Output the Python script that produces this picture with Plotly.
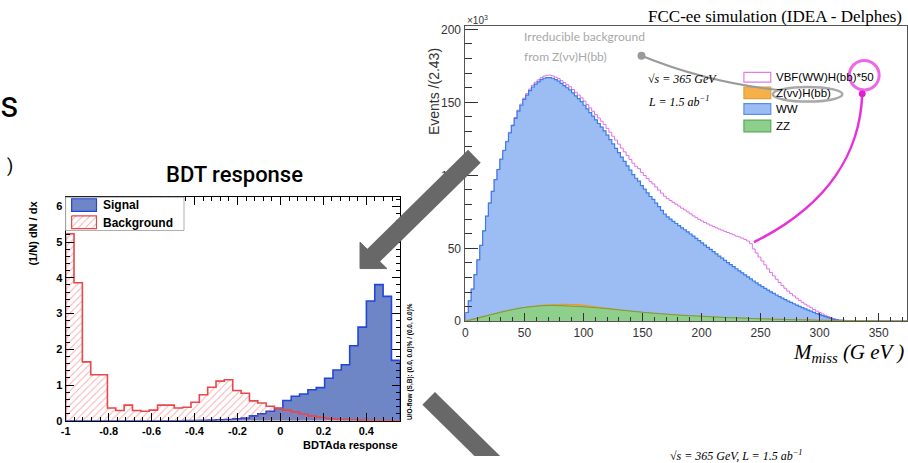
import numpy as np
import plotly.graph_objects as go

W, H = 908, 463

# ---------------- BDT response (left) ----------------
bdt_lo, bdt_hi, bdt_nbins = -1.0, 0.556, 40
bdt_signal = [0, 0, 0, 0, 0, 0, 0, 0, 0, 0,
              0, 0, 0.003, 0.005, 0.008, 0.01, 0.015, 0.02, 0.03, 0.04,
              0.06, 0.08, 0.14, 0.20, 0.27, 0.35, 0.57, 0.69, 0.75, 0.87,
              0.93, 1.19, 1.42, 1.57, 2.10, 2.62, 3.35, 3.81, 3.48, 1.69]
bdt_background = [5.23, 3.86, 1.65, 1.29, 1.29, 0.36, 0.29, 0.44, 0.29, 0.27,
                  0.30, 0.44, 0.44, 0.36, 0.38, 0.52, 0.73, 0.94, 1.11, 1.15,
                  0.85, 0.77, 0.56, 0.50, 0.41, 0.35, 0.30, 0.25, 0.19, 0.14,
                  0.10, 0.07, 0.05, 0.04, 0.03, 0.02, 0.015, 0.01, 0.01, 0.005]
bdt_tickvals = [-1, -0.8, -0.6, -0.4, -0.2, 0, 0.2, 0.4]
bdt_ticktext = ["-1", "-0.8", "-0.6", "-0.4", "-0.2", "0", "0.2", "0.4"]
bdt_ytickvals = [0, 1, 2, 3, 4, 5, 6]

# ---------------- Missing mass (right), thousands of events / 2.43 GeV ----------------
mmiss_binw, mmiss_nbins = 2.43, 154
# top of the stacked ZZ + Z(vv)H(bb) + WW histogram (as read)
stack_top = [6, 14, 22, 32, 42, 52, 62, 72, 81, 89,
             97, 104, 111, 117, 123, 129, 134, 139, 144, 148,
             152, 155, 158, 160.5, 162.5, 164, 165.5, 166.5, 167, 167,
             166.5, 165.5, 164.5, 163, 161.5, 160, 158.5, 156.5, 154.5, 152.5,
             150.5, 148, 145.5, 143, 140.5, 138, 135.5, 133, 130.5, 127.5,
             124.5, 121.5, 118.5, 115.5, 112.5, 109.5, 106.5, 103.5, 100.5, 98,
             96, 93, 90.5, 88, 85.5, 83.5, 81, 78.5, 76, 73.5,
             71.5, 70, 68.5, 67, 65.5, 64, 62.7, 61.3, 59.8, 58.3,
             56.8, 55.2, 53.7, 52.2, 50.7, 49.2, 47.7, 46.2, 44.7, 43.2,
             41.7, 40.2, 38.8, 37.4, 36, 34.6, 33.2, 31.8, 30.4, 29,
             27.6, 26.3, 25, 23.8, 22.6, 21.4, 20.2, 19.1, 18, 16.9,
             15.8, 14.8, 13.8, 12.9, 12, 11.1, 10.2, 9.3, 8.5, 7.7,
             6.9, 6.1, 5.3, 4.6, 3.9, 3.2, 2.5, 1.9, 1.3, 0.9,
             0.7, 0.6, 0.5, 0.45, 0.4, 0.4, 0.3, 0.3, 0.3, 0.3,
             0.3, 0.3, 0.2, 0.2, 0.2, 0.2, 0.2, 0.2, 0.2, 0.1,
             0.1, 0.1, 0.1, 0.1]
zz = [0.3, 0.8, 1.3, 1.8, 2.3, 2.8, 3.3, 3.8, 4.3, 4.8,
      5.3, 5.8, 6.3, 6.8, 7.2, 7.6, 8.0, 8.4, 8.8, 9.1,
      9.4, 9.7, 9.9, 10.1, 10.3, 10.5, 10.6, 10.7, 10.8, 10.8,
      10.8, 10.8, 10.7, 10.7, 10.6, 10.5, 10.4, 10.3, 10.2, 10.1,
      10.0, 9.9, 9.7, 9.6, 9.4, 9.3, 9.1, 9.0, 8.8, 8.6,
      8.4, 8.2, 8.0, 7.8, 7.6, 7.4, 7.2, 7.0, 6.8, 6.6,
      6.4, 6.2, 6.0, 5.9, 5.7, 5.5, 5.4, 5.2, 5.1, 4.9,
      4.8, 4.6, 4.5, 4.4, 4.2, 4.1, 4.0, 3.9, 3.8, 3.7,
      3.6, 3.5, 3.4, 3.3, 3.2, 3.1, 3.0, 2.9, 2.8, 2.7,
      2.6, 2.5, 2.5, 2.4, 2.3, 2.2, 2.2, 2.1, 2.0, 1.9,
      1.9, 1.8, 1.7, 1.7, 1.6, 1.6, 1.5, 1.4, 1.4, 1.3,
      1.3, 1.2, 1.2, 1.1, 1.1, 1.0, 1.0, 0.9, 0.9, 0.9,
      0.8, 0.8, 0.7, 0.7, 0.7, 0.6, 0.6, 0.6, 0.5, 0.5,
      0.5, 0.5, 0.4, 0.4, 0.4, 0.4, 0.3, 0.3, 0.3, 0.3,
      0.3, 0.3, 0.2, 0.2, 0.2, 0.2, 0.2, 0.2, 0.2, 0.1,
      0.1, 0.1, 0.1, 0.1]
zh = [0] * 20 + [0.05, 0.05, 0.1, 0.1, 0.15, 0.2, 0.25, 0.3, 0.4, 0.5,
                 0.6, 0.7, 0.8, 0.9, 1.0, 1.1, 1.1, 1.2, 1.2, 1.2,
                 1.1, 1.0, 0.9, 0.8, 0.7, 0.6, 0.5, 0.4, 0.3, 0.25,
                 0.2, 0.15, 0.1, 0.1, 0.05, 0.05] + [0] * 98
vbf_x50 = [0.0, 0.0, 0.0, 0.0, 0.0, 0.0, 0.0, 0.0, 0.0, 0.0,
           0.1, 0.1, 0.2, 0.2, 0.3, 0.4, 0.5, 0.6, 0.7, 0.8,
           0.9, 1.0, 1.1, 1.2, 1.3, 1.4, 1.4, 1.5, 1.5, 1.6,
           1.6, 1.7, 1.8, 1.9, 2.0, 2.1, 2.2, 2.3, 2.4, 2.5,
           2.6, 2.8, 3.0, 3.2, 3.4, 3.6, 3.8, 4.1, 4.4, 4.7,
           5.0, 5.3, 5.6, 5.9, 6.2, 6.6, 7.0, 7.4, 7.8, 8.2,
           8.6, 9.0, 9.4, 9.8, 10.2, 10.6, 11.0, 11.4, 11.8, 12.2,
           12.5, 12.8, 13.0, 13.2, 13.4, 13.5, 13.6, 13.7, 13.8, 13.9,
           14.2, 14.6, 15.0, 15.5, 16.0, 16.6, 17.2, 17.8, 18.5, 19.2,
           19.9, 20.6, 21.2, 21.8, 22.3, 23.2, 23.8, 24.3, 24.6, 24.2,
           22.0, 20.5, 19.0, 17.5, 16.0, 14.5, 13.2, 12.0, 10.8, 9.7,
           8.7, 7.8, 6.9, 6.1, 5.4, 4.8, 4.2, 3.7, 3.2, 2.8,
           2.4, 2.0, 1.7, 1.4, 1.1, 0.9, 0.7, 0.5, 0.4, 0.3,
           0.2, 0.2, 0.1, 0.1, 0.1, 0.05] + [0] * 18
mmiss_tickvals = [0, 50, 100, 150, 200, 250, 300, 350]
events_tickvals = [0, 50, 100, 150, 200]


def step_xy(edges, vals):
    edges = list(edges)
    vals = list(vals)
    x = [edges[0]] + edges[:-1] + [edges[-1], edges[-1]]
    y = [0] + vals + [vals[-1], 0]
    return x, y


bdt_edges = np.linspace(bdt_lo, bdt_hi, bdt_nbins + 1)
mm_edges = np.arange(mmiss_nbins + 1) * mmiss_binw

top = np.maximum(np.array(stack_top), np.array(zz) + np.array(zh))
zz_zh = np.array(zz) + np.array(zh)
magenta = top + np.array(vbf_x50)

fig = go.Figure()

hatch = dict(shape="/", fgcolor="#ee6060", bgcolor="rgba(0,0,0,0)", size=5, solidity=0.2)

# left histograms
xs, ys = step_xy(bdt_edges, bdt_signal)
fig.add_trace(go.Scatter(x=xs, y=ys, mode="lines", line_shape="hv",
                         line=dict(color="#2345d8", width=1.6), fill="tozeroy",
                         fillcolor="#6f86c6", xaxis="x", yaxis="y", name="Signal"))
xb, yb = step_xy(bdt_edges, bdt_background)
fig.add_trace(go.Scatter(x=xb, y=yb, mode="lines", line_shape="hv",
                         line=dict(color="#e8474c", width=1.6), fill="tozeroy",
                         fillcolor="rgba(0,0,0,0)", fillpattern=hatch,
                         xaxis="x", yaxis="y", name="Background"))

# right histograms (VBF*50 outline first so that the stack hides it where it coincides)
xm, ym = step_xy(mm_edges, magenta)
fig.add_trace(go.Scatter(x=xm, y=ym, mode="lines", line_shape="hv",
                         line=dict(color="#e070e8", width=1.0),
                         xaxis="x2", yaxis="y2", name="VBF(WW)H(bb)*50"))
xt, yt = step_xy(mm_edges, top)
fig.add_trace(go.Scatter(x=xt, y=yt, mode="lines", line_shape="hv",
                         line=dict(color="#3c7ce6", width=1.2), fill="tozeroy",
                         fillcolor="#9cbdf4", xaxis="x2", yaxis="y2", name="WW"))
xo, yo = step_xy(mm_edges, zz_zh)
fig.add_trace(go.Scatter(x=xo, y=yo, mode="lines", line_shape="hv",
                         line=dict(color="#d9a040", width=1.2), fill="tozeroy",
                         fillcolor="#f5b04a", xaxis="x2", yaxis="y2", name="Z(vv)H(bb)"))
xg, yg = step_xy(mm_edges, zz)
fig.add_trace(go.Scatter(x=xg, y=yg, mode="lines", line_shape="hv",
                         line=dict(color="#7a9a40", width=1.0), fill="tozeroy",
                         fillcolor="#8fcf8c", xaxis="x2", yaxis="y2", name="ZZ"))

# legend swatch with hatch (pixel overlay axis)
fig.add_trace(go.Scatter(x=[67, 92, 92, 67, 67], y=[217, 217, 230, 230, 217], mode="lines",
                         line=dict(color="#e8474c", width=1.2), fill="toself",
                         fillcolor="rgba(0,0,0,0)", fillpattern=hatch,
                         xaxis="x3", yaxis="y3", hoverinfo="skip"))


def px(x):
    return x / W


def py(y):
    return 1 - y / H


bold11 = dict(family="Liberation Sans", size=11, color="black", weight="bold")
fig.update_layout(
    width=W, height=H, margin=dict(l=0, r=0, t=0, b=0),
    paper_bgcolor="white", plot_bgcolor="rgba(0,0,0,0)", showlegend=False,
    xaxis=dict(domain=[px(61), px(397)], anchor="y", range=[bdt_lo, bdt_hi],
               tickmode="array", tickvals=bdt_tickvals, ticktext=bdt_ticktext,
               ticks="inside", ticklen=8, tickcolor="black", showline=True,
               linecolor="black", linewidth=1, mirror="ticks", showgrid=False, zeroline=False,
               tickfont=bold11,
               minor=dict(tickmode="linear", tick0=-1, dtick=0.04, ticks="inside",
                          ticklen=4, tickcolor="black")),
    yaxis=dict(domain=[py(427), py(198)], anchor="x", range=[0, 6.25],
               tickmode="array", tickvals=bdt_ytickvals,
               ticks="inside", ticklen=8, tickcolor="black", showline=True,
               linecolor="black", linewidth=1, mirror="ticks", showgrid=False, zeroline=False,
               tickfont=bold11,
               minor=dict(tickmode="linear", tick0=0, dtick=0.2, ticks="inside",
                          ticklen=4, tickcolor="black")),
    xaxis2=dict(domain=[px(463), px(907)], anchor="y2", range=[0, 374],
                tickmode="array", tickvals=mmiss_tickvals,
                ticks="inside", ticklen=8, tickcolor="#333", showline=True,
                linecolor="#555", linewidth=1, mirror=True, showgrid=False, zeroline=False,
                tickfont=dict(family="Liberation Sans", size=12, color="#333"),
                minor=dict(tickmode="linear", tick0=0, dtick=10, ticks="inside",
                           ticklen=4, tickcolor="#333")),
    yaxis2=dict(domain=[py(325), py(23)], anchor="x2", range=[0, 202],
                tickmode="array", tickvals=events_tickvals,
                ticks="inside", ticklen=13, tickcolor="#333", showline=True,
                linecolor="#555", linewidth=1, mirror=True, showgrid=False, zeroline=False,
                tickfont=dict(family="Liberation Sans", size=12, color="#333"),
                ticklabelstandoff=1,
                minor=dict(tickmode="linear", tick0=0, dtick=10, ticks="inside",
                           ticklen=7, tickcolor="#333")),
    xaxis3=dict(domain=[0, 1], anchor="y3", range=[0, W], visible=False, fixedrange=True),
    yaxis3=dict(domain=[0, 1], anchor="x3", range=[H, 0], visible=False, fixedrange=True),
)

shapes = []
A = dict(xref="x3", yref="y3")
# left legend box
shapes.append(dict(type="rect", x0=61, y0=198, x1=180, y1=232, line=dict(color="#b0b0b0", width=1),
                   fillcolor="white", layer="below", **A))
shapes.append(dict(type="rect", x0=67, y0=199.5, x1=92, y1=212.5, line=dict(color="#2345d8", width=1.2),
                   fillcolor="#6f86c6", layer="above", **A))
# right legend swatches
sw = [("white", "#e07ae6", 70, 80), ("#f5b04a", "#e0a040", 85, 97),
      ("#9cbdf4", "#5a8fe8", 102, 113), ("#8fcf8c", "#5aaa5a", 119, 131)]
for fc, lc, y0, y1 in sw:
    shapes.append(dict(type="rect", x0=743, x1=770, y0=y0, y1=y1, fillcolor=fc,
                       line=dict(color=lc, width=1.2), layer="above", **A))
# gray annotation curve, dot, ellipse
shapes.append(dict(type="path", path="M 640 53 Q 705 80 777 88", line=dict(color="#9a9a9a", width=2), layer="above", **A))
shapes.append(dict(type="circle", x0=636, x1=644, y0=49, y1=57, fillcolor="#9a9a9a", line=dict(width=0), layer="above", **A))
shapes.append(dict(type="circle", x0=772, x1=842, y0=85, y1=100, line=dict(color="#a8a8a8", width=2.5), layer="above", **A))
# magenta annotation
shapes.append(dict(type="circle", x0=849, x1=879, y0=58, y1=88, line=dict(color="#f066e8", width=3), layer="above", **A))
shapes.append(dict(type="path", path="M 862 92 C 860 150 830 205 753 244", line=dict(color="#e830d8", width=2.5), layer="above", **A))
shapes.append(dict(type="circle", x0=858.5, x1=865.5, y0=88.5, y1=95.5, fillcolor="#e020d0", line=dict(width=0), layer="above", **A))
# gray arrows
shapes.append(dict(type="line", x0=370, y0=258, x1=472, y1=156, line=dict(color="#686868", width=18), layer="above", **A))
shapes.append(dict(type="path", path="M 357 271 L 357 244 L 384 271 Z", fillcolor="#686868", line=dict(color="#686868", width=1), layer="above", **A))
shapes.append(dict(type="line", x0=426, y0=404, x1=510, y1=488, line=dict(color="#686868", width=18), layer="above", **A))
fig.update_layout(shapes=shapes)

serif = "Liberation Serif"
ann = []


def T(text, x, y, size, xa="left", ya="middle", color="black", family="Liberation Sans", weight="normal", angle=0):
    ann.append(dict(text=text, x=x, y=y, xref="x3", yref="y3", xanchor=xa, yanchor=ya,
                    showarrow=False, textangle=angle,
                    font=dict(family=family, size=size, color=color, weight=weight)))


T("s", 16, 103, 36, xa="right", family="Roboto")
T(")", 0, 166, 18, xa="left", family="Roboto")
T("BDT response", 231, 175, 22, xa="center", family="Roboto", weight=500)
T("Signal", 97, 206, 12, weight="bold")
T("Background", 97, 224, 12, weight="bold")
T("(1/N) dN / dx", 28, 199, 11, xa="center", ya="top", weight="bold", angle=-90)
T("BDTAda response", 397, 452, 11, xa="right", weight="bold")
T("U/O-flow (S,B): (0.0, 0.0)% / (0.0, 0.0)%", 408, 428, 6.5, xa="center", ya="bottom", weight="bold", angle=-90)
T("FCC-ee simulation (IDEA - Delphes)", 904, 13, 17, xa="right", family=serif)
T("×10<sup>3</sup>", 463, 16, 10, color="#333")
T("Events /(2.43)", 432, 43, 14, xa="center", ya="top", color="#333", angle=-90)
T("<i>M<sub>miss</sub> (G eV )</i>", 906, 358, 21, xa="right", family=serif)
T("<i>√s = 365 GeV</i>", 645, 77, 12, family=serif)
T("<i>L = 1.5 ab<sup>−1</sup></i>", 645, 100, 12, family=serif)
T("VBF(WW)H(bb)*50", 773, 75, 11.5)
T("Z(vv)H(bb)", 773, 91, 11.5)
T("WW", 773, 108, 11.5)
T("ZZ", 773, 125, 11.5)
T("Irreducible background", 520, 33, 12, color="#a8a8a8", family="Lato")
T("from Z(νν)H(bb)", 520, 54, 12, color="#a8a8a8", family="Lato")
T("<i>√s = 365 GeV, L = 1.5 ab<sup>−1</sup></i>", 667, 462, 12, family=serif)
fig.update_layout(annotations=ann)

fig.write_html("out.html")
